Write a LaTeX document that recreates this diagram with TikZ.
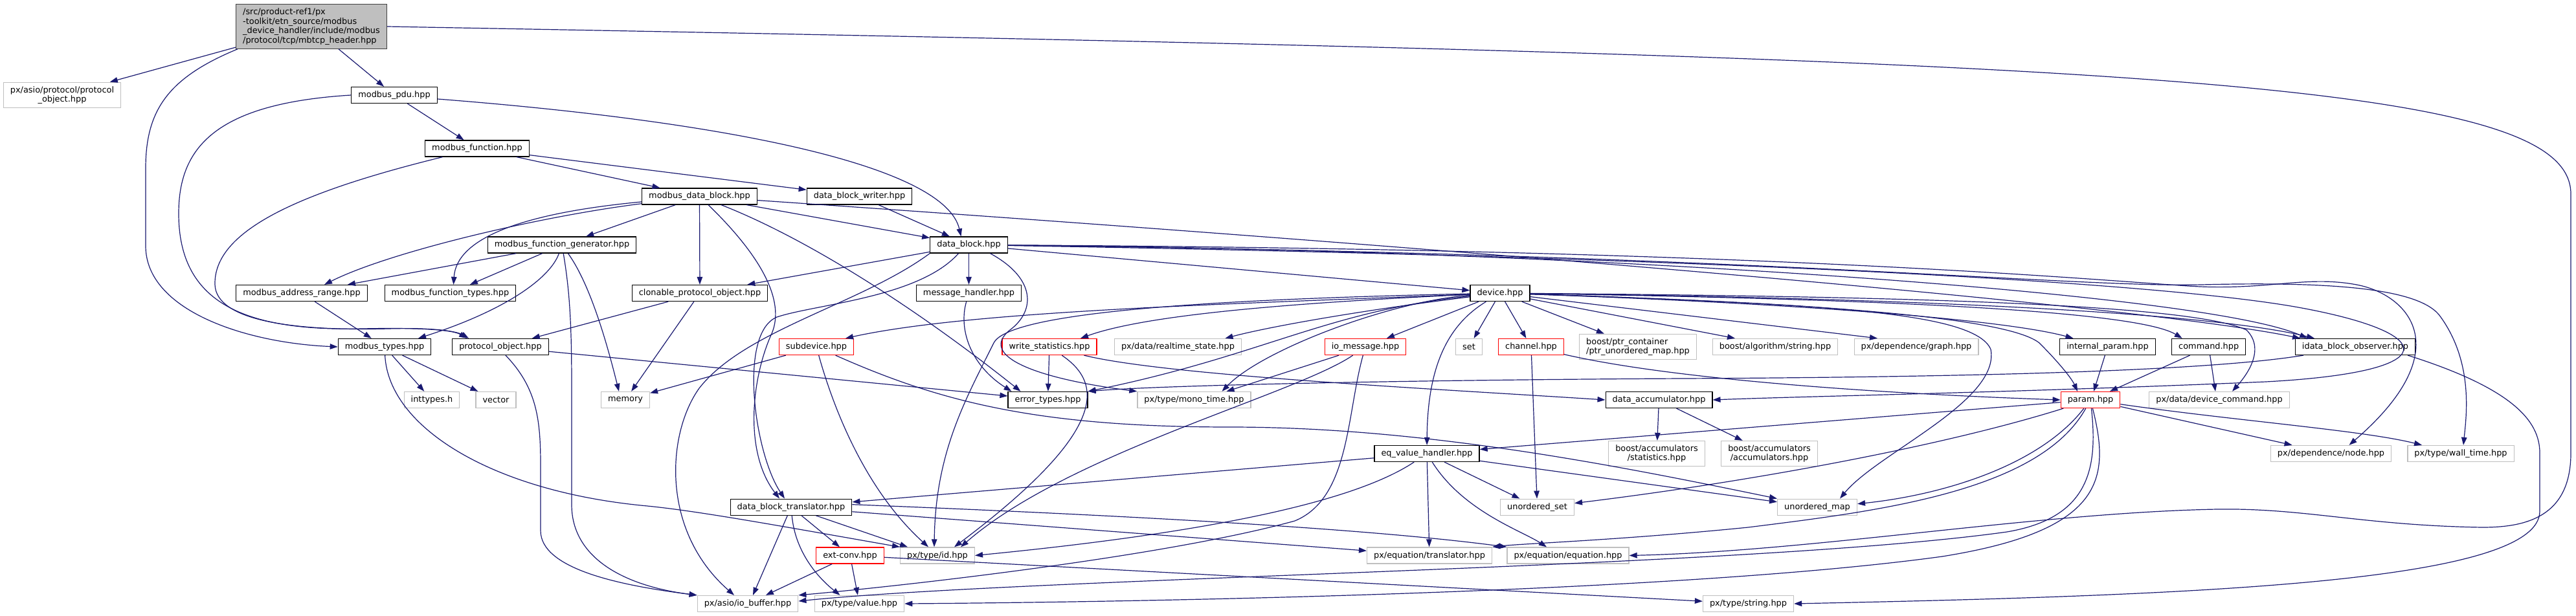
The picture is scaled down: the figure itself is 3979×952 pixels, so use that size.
\documentclass[tikz,border=0pt]{standalone}
\usepackage{fontspec}
\setmainfont{DejaVu Sans}
\usetikzlibrary{arrows.meta}
\definecolor{edgeblue}{RGB}{25,25,112}
\definecolor{rootgray}{RGB}{191,191,191}
\definecolor{rootedge}{RGB}{64,64,64}
\definecolor{boxgray}{RGB}{191,191,191}
\begin{document}
\begin{tikzpicture}[
        x=1pt, y=-1pt,
        every node/.style={font=\fontsize{12.9pt}{14.5pt}\selectfont, inner xsep=10.5pt, inner ysep=6pt,
            minimum height=25pt, line width=1.3pt, align=center},
        hdr/.style={draw=black, fill=white},
        sys/.style={draw=boxgray, fill=white},
        cut/.style={draw=red, fill=white},
        root/.style={draw=rootedge, fill=rootgray, align=left},
        inc/.style={->, draw=edgeblue, line width=1.2pt},
        >={Triangle[length=12pt,width=8.5pt]}
    ]
        \useasboundingbox (0,0) rectangle (3979,952);

        %--------------------------------
        % files
        %--------------------------------
        \node[root] (main) at (481,41) {/src/product-ref1/px\\-toolkit/etn\_source/modbus\\\_device\_handler/include/modbus\\/protocol/tcp/mbtcp\_header.hpp};
        \node[sys] (asioproto) at (96,147) {px/asio/protocol/protocol\\\_object.hpp};
        \node[hdr] (pdu) at (609,147) {modbus\_pdu.hpp};
        \node[hdr] (func) at (737,229.5) {modbus\_function.hpp};
        \node[hdr] (mdb) at (1080.5,303.5) {modbus\_data\_block.hpp};
        \node[hdr] (dbw) at (1327.5,303.5) {data\_block\_writer.hpp};
        \node[hdr] (gen) at (868,378.5) {modbus\_function\_generator.hpp};
        \node[hdr] (db) at (1496.5,378.5) {data\_block.hpp};
        \node[hdr] (addr) at (466,453) {modbus\_address\_range.hpp};
        \node[hdr] (ftypes) at (695.5,453) {modbus\_function\_types.hpp};
        \node[hdr] (clon) at (1081,453) {clonable\_protocol\_object.hpp};
        \node[hdr] (msg) at (1496.5,453) {message\_handler.hpp};
        \node[hdr] (dev) at (2317,453) {device.hpp};
        \node[hdr] (mtypes) at (594,536) {modbus\_types.hpp};
        \node[hdr] (proto) at (773,536) {protocol\_object.hpp};
        \node[cut] (subdev) at (1261,536) {subdevice.hpp};
        \node[cut] (wstat) at (1621,536) {write\_statistics.hpp};
        \node[sys] (rtstate) at (1819.5,536) {px/data/realtime\_state.hpp};
        \node[cut] (iomsg) at (2109,536) {io\_message.hpp};
        \node[sys] (set) at (2269,536) {set};
        \node[cut] (chan) at (2365,536) {channel.hpp};
        \node[sys, align=left] (ptrmap) at (2530,536) {boost/ptr\_container\\/ptr\_unordered\_map.hpp};
        \node[sys] (algo) at (2742,536) {boost/algorithm/string.hpp};
        \node[sys] (graph) at (2960,536) {px/dependence/graph.hpp};
        \node[hdr] (iparam) at (3255.5,536) {internal\_param.hpp};
        \node[hdr] (cmd) at (3411.7,536) {command.hpp};
        \node[hdr] (idbo) at (3638,536) {idata\_block\_observer.hpp};
        \node[sys] (inttypes) at (667,618) {inttypes.h};
        \node[sys] (vector) at (766,618) {vector};
        \node[sys] (memory) at (966,618) {memory};
        \node[hdr] (err) at (1618.5,618) {error\_types.hpp};
        \node[sys] (mono) at (1844.5,618) {px/type/mono\_time.hpp};
        \node[hdr] (dacc) at (2562.5,618) {data\_accumulator.hpp};
        \node[cut] (param) at (3229,618) {param.hpp};
        \node[sys] (devcmd) at (3428,618) {px/data/device\_command.hpp};
        \node[hdr] (eqv) at (2204,701) {eq\_value\_handler.hpp};
        \node[sys] (accstat) at (2559,701) {boost/accumulators\\/statistics.hpp};
        \node[sys] (accacc) at (2733,701) {boost/accumulators\\/accumulators.hpp};
        \node[sys] (dnode) at (3600.5,701) {px/dependence/node.hpp};
        \node[sys] (wall) at (3801,701) {px/type/wall\_time.hpp};
        \node[hdr] (dbt) at (1222,783.7) {data\_block\_translator.hpp};
        \node[sys] (uset) at (2374.5,783.7) {unordered\_set};
        \node[sys] (umap) at (2807,783.7) {unordered\_map};
        \node[cut] (ext) at (1313,858.5) {ext-conv.hpp};
        \node[sys] (id) at (1448,858.5) {px/type/id.hpp};
        \node[sys] (eqtr) at (2208,858.5) {px/equation/translator.hpp};
        \node[sys] (eqeq) at (2422,858.5) {px/equation/equation.hpp};
        \node[sys] (iobuf) at (1155,933) {px/asio/io\_buffer.hpp};
        \node[sys] (value) at (1327.5,933) {px/type/value.hpp};
        \node[sys] (str) at (2700.5,933) {px/type/string.hpp};

        %--------------------------------
        % mbtcp_header.hpp
        %--------------------------------
        \draw[inc] (main) -- (asioproto);
        \draw[inc] (main) -- (pdu);
        \draw[inc] ([xshift=3pt]main.south west) .. controls (260,120) and (225,170) .. (225,260) -- (225,380) .. controls (225,480) and (380,530) .. (mtypes.west);
        \draw[inc] (main.east) .. controls (3300,90) and (3971,120) .. (3971,300) -- (3971,700) .. controls (3971,800) and (3900,815) .. (3834,815) .. controls (3650,812) and (3560,785) .. (3425,787) .. controls (3150,792) and (2800,852) .. (eqeq.east);

        %--------------------------------
        % modbus_pdu.hpp, modbus_function.hpp
        %--------------------------------
        \draw[inc] (pdu) -- (func);
        \draw[inc] ([yshift=-6pt]pdu.east) .. controls (1150,190) and (1460,260) .. ([xshift=-12pt]db.north);
        \draw[inc] (pdu.west) .. controls (330,160) and (276,230) .. (276,330) .. controls (276,470) and (380,512) .. (560,508) .. controls (650,506) and (700,510) .. ([xshift=23pt]proto.north west);
        \draw[inc] (func) -- (mdb);
        \draw[inc] (func) -- (dbw);
        \draw[inc] (func) .. controls (450,300) and (330,360) .. (332,440) .. controls (334,495) and (450,512) .. (600,508) .. controls (670,506) and (705,512) .. ([xshift=26pt]proto.north west);

        %--------------------------------
        % modbus_data_block.hpp, data_block_writer.hpp
        %--------------------------------
        \draw[inc] (mdb) -- (gen);
        \draw[inc] (mdb) .. controls (830,335) and (600,390) .. ([xshift=35pt]addr.north);
        \draw[inc] (mdb) .. controls (800,330) and (705,370) .. ([xshift=5pt]ftypes.north);
        \draw[inc] (mdb) -- (clon);
        \draw[inc] (mdb) .. controls (1180,400) and (1215,470) .. (1190,520) .. controls (1160,590) and (1150,700) .. ([xshift=-18pt]dbt.north);
        \draw[inc] (mdb) .. controls (1250,370) and (1420,480) .. ([xshift=-42pt]err.north);
        \draw[inc] (mdb) -- (db);
        \draw[inc] (mdb) .. controls (2200,380) and (3300,470) .. ([xshift=-85pt]idbo.north);
        \draw[inc] (dbw) -- (db);

        %--------------------------------
        % data_block.hpp
        %--------------------------------
        \draw[inc] (db) -- (clon);
        \draw[inc] (db.south west) .. controls (1330,470) and (1150,510) .. (1080,600) .. controls (1030,670) and (1020,820) .. ([xshift=-21pt]iobuf.north);
        \draw[inc] ([xshift=-16pt]db.south) .. controls (1420,460) and (1260,470) .. (1200,490) .. controls (1140,515) and (1165,700) .. ([xshift=-10pt]dbt.north);
        \draw[inc] (db) -- (msg);
        \draw[inc] ([xshift=33pt]db.south) .. controls (1600,430) and (1600,480) .. (1560,510) .. controls (1510,550) and (1600,585) .. (mono.north west);
        \draw[inc] (db) -- (dev);
        \draw[inc] (db) .. controls (2400,385) and (3400,450) .. ([xshift=-74pt]idbo.north);
        \draw[inc] (db) .. controls (2700,385) and (3200,430) .. (3380,442) .. controls (3500,450) and (3560,425) .. (3640,440) .. controls (3720,455) and (3800,540) .. ([xshift=28pt]dnode.north);
        \draw[inc] (db) .. controls (2700,392) and (3200,445) .. (3400,440) .. controls (3600,435) and (3740,445) .. (3770,490) .. controls (3820,560) and (3810,640) .. ([xshift=4pt]wall.north);
        \draw[inc] (db) .. controls (2500,395) and (3300,430) .. (3550,475) .. controls (3770,515) and (3780,575) .. (3500,590) .. controls (3100,607) and (2800,612) .. (dacc.east);

        %--------------------------------
        % modbus_function_generator.hpp and the small ones
        %--------------------------------
        \draw[inc] (gen) -- (addr);
        \draw[inc] (gen) -- (ftypes);
        \draw[inc] (gen) .. controls (850,430) and (780,480) .. ([xshift=52pt]mtypes.north);
        \draw[inc] (gen) .. controls (905,430) and (930,500) .. ([xshift=-10pt]memory.north);
        \draw[inc] (gen) .. controls (880,450) and (883,500) .. (883,600) -- (883,780) .. controls (883,860) and (960,905) .. (iobuf.north west);
        \draw[inc] (addr) -- (mtypes);
        \draw[inc] (clon) -- (proto);
        \draw[inc] (clon) -- (memory);
        \draw[inc] (msg) .. controls (1480,510) and (1500,565) .. ([xshift=-56pt]err.north);
        \foreach \dst in {inttypes,vector}
            \draw[inc] (mtypes) -- (\dst);
        \draw[inc] (mtypes) .. controls (600,660) and (760,760) .. (1000,782) .. controls (1080,790) and (1200,812) .. (id.north west);
        \draw[inc] (proto) -- (err);
        \draw[inc] ([xshift=8pt]proto.south) .. controls (830,600) and (835,650) .. (835,720) -- (835,820) .. controls (835,880) and (960,905) .. (iobuf.north west);

        %--------------------------------
        % subdevice.hpp, write_statistics.hpp
        %--------------------------------
        \draw[inc] (subdev) -- (memory);
        \draw[inc] (subdev) .. controls (1290,640) and (1340,760) .. ([xshift=-14pt]id.north);
        \draw[inc] (subdev) .. controls (1450,620) and (1600,660) .. (1900,660) .. controls (2200,660) and (2500,720) .. (umap.north west);
        \draw[inc] (wstat) -- (err);
        \draw[inc] (wstat) .. controls (1700,590) and (1720,660) .. ([xshift=26pt]id.north);
        \draw[inc] (wstat) .. controls (1800,580) and (2200,600) .. (dacc.west);

        %--------------------------------
        % device.hpp
        %--------------------------------
        \draw[inc] (dev) .. controls (1900,470) and (1500,480) .. ([xshift=45pt]subdev.north);
        \draw[inc] (dev) .. controls (1950,470) and (1760,490) .. ([xshift=48pt]wstat.north);
        \draw[inc] (dev) .. controls (2100,480) and (1960,505) .. ([xshift=73pt]rtstate.north);
        \draw[inc] (dev) .. controls (2050,480) and (1950,550) .. (err.north east);
        \draw[inc] (dev) .. controls (2150,465) and (1950,540) .. ([xshift=43pt]mono.north);
        \draw[inc] (dev) .. controls (1900,462) and (1560,480) .. (1535,530) .. controls (1490,620) and (1445,700) .. ([xshift=-5pt]id.north);
        \foreach \dst in {iomsg,set,chan,ptrmap}
            \draw[inc] (dev) -- (\dst);
        \draw[inc] (dev) -- ([xshift=-62pt]algo.north);
        \draw[inc] (dev) -- ([xshift=-60pt]graph.north);
        \draw[inc] (dev) .. controls (2240,500) and (2205,560) .. (eqv);
        \draw[inc] (dev) .. controls (2800,470) and (3100,495) .. ([xshift=-53pt]iparam.north);
        \draw[inc] (dev) .. controls (2900,462) and (3300,480) .. ([xshift=-41pt]cmd.north);
        \draw[inc] (dev) .. controls (2900,460) and (3400,480) .. ([xshift=-63pt]idbo.north);
        \draw[inc] (dev) .. controls (2800,468) and (3100,490) .. (3150,530) .. controls (3180,560) and (3200,585) .. ([xshift=-20pt]param.north);
        \draw[inc] (dev) .. controls (2900,458) and (3380,468) .. (3470,510) .. controls (3500,540) and (3470,580) .. ([xshift=20pt]devcmd.north);
        \draw[inc] (dev) .. controls (2800,470) and (3050,480) .. (3075,540) .. controls (3090,620) and (2900,700) .. ([xshift=35pt]umap.north);

        %--------------------------------
        % io_message.hpp, channel.hpp, data_accumulator.hpp
        %--------------------------------
        \draw[inc] (iomsg) -- ([xshift=50pt]mono.north);
        \draw[inc] (iomsg) .. controls (2000,610) and (1650,700) .. ([xshift=36pt]id.north);
        \draw[inc] (iomsg) .. controls (2080,640) and (2085,770) .. (2000,805) .. controls (1800,860) and (1400,905) .. (iobuf.north east);
        \draw[inc] (chan) -- (uset);
        \draw[inc] (chan) .. controls (2600,590) and (2950,610) .. (param.west);
        \foreach \dst in {accstat,accacc}
            \draw[inc] (dacc) -- (\dst);

        %--------------------------------
        % eq_value_handler.hpp
        %--------------------------------
        \draw[inc] (eqv) -- (dbt);
        \draw[inc] (eqv) .. controls (2100,770) and (1900,820) .. (id.east);
        \draw[inc] (eqv) -- (eqtr);
        \draw[inc] (eqv) .. controls (2260,790) and (2350,820) .. ([xshift=-33pt]eqeq.north);
        \draw[inc] (eqv) -- (uset);
        \draw[inc] (eqv) -- ([yshift=8pt]umap.west);

        %--------------------------------
        % data_block_translator.hpp, ext-conv.hpp
        %--------------------------------
        \draw[inc] (dbt) -- (ext);
        \draw[inc] (dbt) -- ([xshift=-46pt]id.north);
        \draw[inc] (dbt) -- ([xshift=8pt]iobuf.north);
        \draw[inc] (dbt) .. controls (1228,850) and (1260,890) .. ([xshift=-30pt]value.north);
        \draw[inc] (dbt) -- (eqtr);
        \draw[inc] ([yshift=4pt]dbt.east) .. controls (1700,795) and (2100,815) .. (eqeq.north west);
        \draw[inc] (ext) -- (iobuf);
        \draw[inc] (ext) -- (value);
        \draw[inc] (ext) -- (str);

        %--------------------------------
        % param.hpp and its parents
        %--------------------------------
        \draw[inc] (param) -- (eqv);
        \draw[inc] (param) .. controls (3000,690) and (2700,745) .. ([yshift=6pt]uset.east);
        \draw[inc] (param) .. controls (3150,720) and (3000,765) .. ([yshift=5pt]umap.east);
        \draw[inc] (param) .. controls (3150,760) and (2900,790) .. (2700,815) .. controls (2500,835) and (2350,840) .. (eqtr.north east);
        \draw[inc] (param) .. controls (3240,720) and (3230,800) .. (3100,822) .. controls (2700,878) and (1600,892) .. ([yshift=4pt]iobuf.east);
        \draw[inc] (param) .. controls (3260,740) and (3250,820) .. (3000,860) .. controls (2600,915) and (1800,930) .. (value.east);
        \draw[inc] (param) -- ([xshift=-60pt]dnode.north);
        \draw[inc] (param) .. controls (3450,650) and (3650,665) .. ([xshift=-60pt]wall.north);
        \draw[inc] (iparam) -- ([xshift=5pt]param.north);
        \draw[inc] (cmd) -- ([xshift=30pt]param.north);
        \draw[inc] (cmd) -- ([xshift=-6pt]devcmd.north);

        %--------------------------------
        % idata_block_observer.hpp
        %--------------------------------
        \draw[inc] (idbo) .. controls (3400,575) and (3000,583) .. (2600,585) .. controls (2200,587) and (1800,595) .. (err.north east);
        \draw[inc] ([xshift=-12pt]idbo.south east) .. controls (3880,600) and (3923,650) .. (3923,700) -- (3923,790) .. controls (3923,900) and (3400,920) .. (str.east);

    \end{tikzpicture}
\end{document}
